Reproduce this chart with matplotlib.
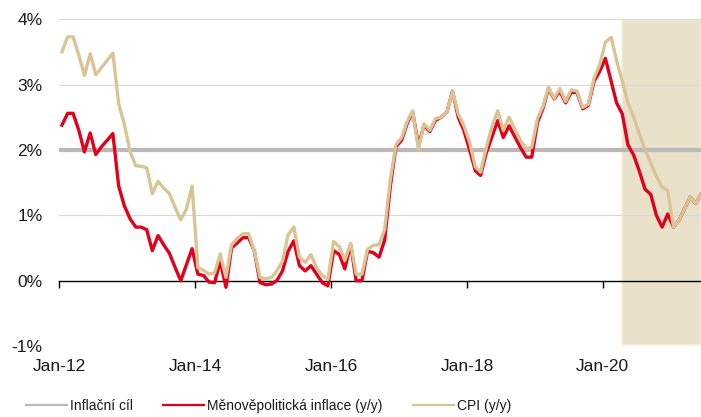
import numpy as np
import pandas as pd
import matplotlib
matplotlib.use('Agg')
import matplotlib.pyplot as plt
import matplotlib.dates as mdates
from matplotlib import font_manager

# y/y inflation in %, monthly Jan 2012 - Jun 2021 (shaded part = forecast)
cpi = [
    3.50, 3.73, 3.73, 3.45, 3.14, 3.47, 3.15, 3.26, 3.37, 3.48, 2.71, 2.40,  # 2012
    1.98, 1.76, 1.75, 1.73, 1.33, 1.52, 1.42, 1.33, 1.12, 0.93, 1.10, 1.45,  # 2013
    0.20, 0.16, 0.10, 0.12, 0.41, 0.05, 0.55, 0.65, 0.72, 0.72, 0.45, 0.05,  # 2014
    0.03, 0.05, 0.15, 0.30, 0.70, 0.82, 0.36, 0.28, 0.40, 0.20, 0.08, 0.02,  # 2015
    0.60, 0.52, 0.31, 0.57, 0.10, 0.10, 0.48, 0.54, 0.55, 0.78, 1.55, 2.08,  # 2016
    2.19, 2.45, 2.60, 2.00, 2.40, 2.30, 2.48, 2.50, 2.58, 2.90, 2.55, 2.37,  # 2017
    2.12, 1.74, 1.66, 2.04, 2.35, 2.60, 2.30, 2.50, 2.32, 2.15, 2.02, 2.04,  # 2018
    2.48, 2.68, 2.96, 2.79, 2.94, 2.74, 2.92, 2.90, 2.65, 2.70, 3.10, 3.30,  # 2019
    3.65, 3.72, 3.37, 3.05, 2.72, 2.50, 2.25, 2.00, 1.80, 1.60, 1.43, 1.38,  # 2020
    0.82, 0.93, 1.10, 1.28, 1.18, 1.33,                                      # 2021
]
mp_inflation = [
    2.38, 2.56, 2.56, 2.30, 1.97, 2.26, 1.93, 2.05, 2.15, 2.25, 1.45, 1.15,  # 2012
    0.95, 0.82, 0.82, 0.78, 0.46, 0.69, 0.55, 0.42, 0.20, 0.00, 0.25, 0.49,  # 2013
    0.10, 0.08, -0.02, -0.03, 0.30, -0.10, 0.50, 0.58, 0.66, 0.66, 0.45, -0.03,  # 2014
    -0.06, -0.05, 0.00, 0.15, 0.45, 0.61, 0.23, 0.15, 0.23, 0.10, -0.03, -0.08,  # 2015
    0.46, 0.40, 0.18, 0.56, 0.00, 0.00, 0.45, 0.43, 0.36, 0.62, 1.45, 2.05,  # 2016
    2.15, 2.42, 2.58, 2.07, 2.38, 2.28, 2.45, 2.50, 2.58, 2.90, 2.50, 2.30,  # 2017
    2.00, 1.68, 1.61, 1.96, 2.20, 2.45, 2.19, 2.37, 2.20, 2.04, 1.89, 1.89,  # 2018
    2.42, 2.65, 2.94, 2.78, 2.90, 2.72, 2.88, 2.88, 2.63, 2.68, 3.05, 3.20,  # 2019
    3.40, 3.05, 2.72, 2.55, 2.08, 1.92, 1.68, 1.40, 1.32, 1.00, 0.82, 1.02,  # 2020
    0.82, 0.93, 1.10, 1.28, 1.18, 1.33,                                      # 2021
]
target = 2.0
start_month = '2012-01-01'
forecast_from = '2020-04-13'
x_end = '2021-06-12'

labels = ['Inflační cíl', 'Měnověpolitická inflace (y/y)', 'CPI (y/y)']
tick_dates = ['2012-01-01', '2014-01-01', '2016-01-01', '2018-01-01', '2020-01-01']
tick_labels = ['Jan-12', 'Jan-14', 'Jan-16', 'Jan-18', 'Jan-20']
y_ticks = [-1, 0, 1, 2, 3, 4]
y_labels = ['-1%', '0%', '1%', '2%', '3%', '4%']

# points sit in the middle of each month
months = pd.date_range(start_month, periods=len(cpi), freq='MS') + pd.Timedelta(days=14)
x = mdates.date2num(months)
ticks_x = mdates.date2num(pd.to_datetime(tick_dates))

plt.rcParams['font.family'] = ['Liberation Sans', 'DejaVu Sans']
names = {f.name for f in font_manager.fontManager.ttflist}
if 'Liberation Sans Narrow' in names:
    leg_font = dict(family='Liberation Sans Narrow', size=12.5)
    leg_kw = dict(handlelength=2.36, handletextpad=0.18, columnspacing=1.78)
else:
    leg_font = dict(family='Liberation Sans', size=10)
    leg_kw = dict(handlelength=2.95, handletextpad=0.22, columnspacing=2.2)

TXT = '#1a1a1a'
fig = plt.figure(figsize=(7.01, 4.17), dpi=100)
ax = fig.add_axes([0.0846, 0.170, 0.9154, 0.784])

ax.set_xlim(mdates.date2num(pd.Timestamp(start_month)), mdates.date2num(pd.Timestamp(x_end)))
ax.set_ylim(-1, 4)

# forecast shading
ax.axvspan(mdates.date2num(pd.Timestamp(forecast_from)), ax.get_xlim()[1],
           ymin=0.004, ymax=0.996, facecolor='#EAE1CB', edgecolor='#F7EEDB',
           linewidth=1.2, zorder=0)

# horizontal grid
ax.set_yticks(y_ticks, y_labels)
ax.grid(axis='y', color='#D9D9D9', linewidth=0.8, zorder=1)
ax.yaxis.get_gridlines()[0].set_visible(False)
ax.yaxis.get_gridlines()[1].set_visible(False)
ax.set_axisbelow(True)

l_target = ax.axhline(target, color='#BDB8B8', linewidth=3, zorder=2)
l_mp, = ax.plot(x, mp_inflation, color='#E2001A', linewidth=2.4, zorder=3)
l_cpi, = ax.plot(x, cpi, color='#D9C496', linewidth=2.4, zorder=4)

for s in ['left', 'right', 'top']:
    ax.spines[s].set_visible(False)
ax.spines['bottom'].set_position(('data', 0))
ax.spines['bottom'].set_color('black')
ax.spines['bottom'].set_linewidth(1.0)
ax.spines['bottom'].set_zorder(2.5)
ax.set_xticks(ticks_x)
ax.tick_params(axis='x', length=5, width=1, direction='out', labelbottom=False)
ax.tick_params(axis='y', length=0, pad=12, labelsize=12.5, labelcolor=TXT)

secx = ax.secondary_xaxis('bottom')
secx.set_xticks(ticks_x, tick_labels)
secx.tick_params(length=0, pad=9, labelsize=12.5, labelcolor=TXT)
secx.spines['bottom'].set_visible(False)

leg = fig.legend([l_target, l_mp, l_cpi], labels, loc='center', ncol=3,
                 bbox_to_anchor=(0.383, 0.026), frameon=False, prop=leg_font,
                 borderaxespad=0, **leg_kw)
for h in leg.get_lines():
    h.set_linewidth(1.6)
for t in leg.get_texts():
    t.set_color(TXT)

fig.savefig('out.png', dpi=100)
